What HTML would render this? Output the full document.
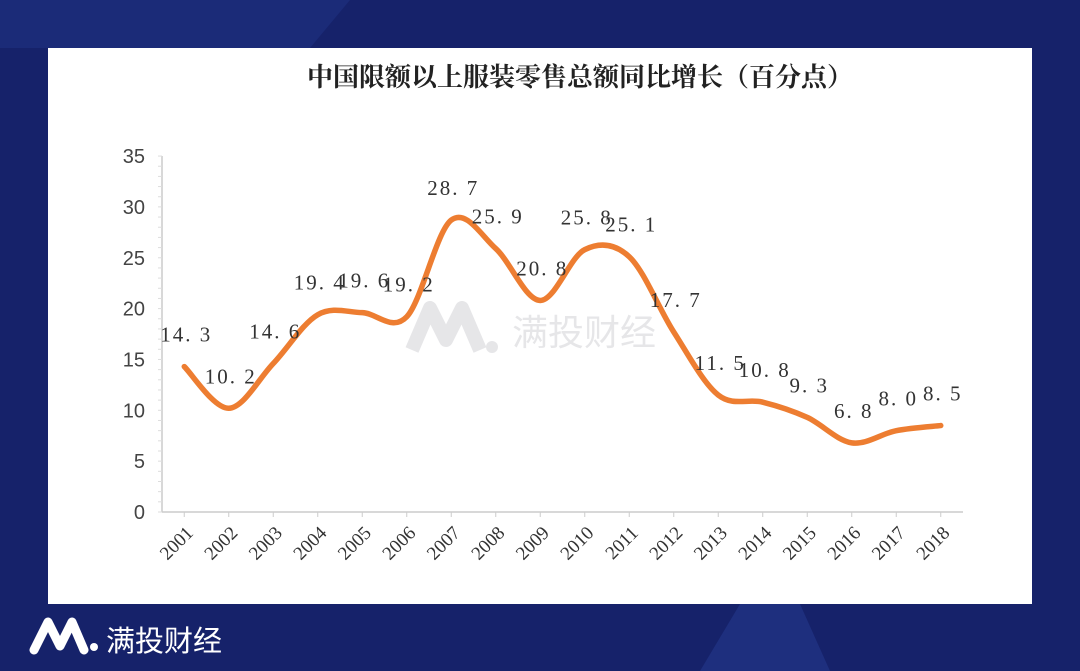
<!DOCTYPE html>
<html><head><meta charset="utf-8"><style>
body{margin:0;width:1080px;height:671px;overflow:hidden;background:#16226a;font-family:"Liberation Sans","Noto Sans CJK SC",sans-serif;}
#bg{position:absolute;left:0;top:0}
#panel{position:absolute;left:48px;top:48px;width:984px;height:556px;background:#fff;}
</style></head><body>
<svg id="bg" width="1080" height="671">
<rect width="1080" height="671" fill="#16226a"/>
<polygon points="0,0 350,0 310,48 0,48" fill="#1b2b78"/>
<polygon points="700,671 740,604 800,604 830,671" fill="#1e2f7e"/>
</svg>
<div id="panel"></div>
<svg id="chart" width="1080" height="671" style="position:absolute;left:0;top:0">
<text x="580" y="86" text-anchor="middle" font-size="26" font-weight="bold" fill="#222" font-family="Liberation Serif,Noto Serif CJK SC,serif">中国限额以上服装零售总额同比增长（百分点）</text>
<g opacity="0.14">
<path d="M412 350 L430 308 L446 340 L462 308 L480 350" fill="none" stroke="#556" stroke-width="14" stroke-linejoin="round"/>
<circle cx="492" cy="347" r="6" fill="#556"/>
<text x="512" y="345" font-size="36" fill="#556">满投财经</text>
</g>
<g id="axes"></g><g id="marks"></g>
<g>
<path d="M34 650 L48 622 L60 646 L72 622 L84 650" fill="none" stroke="#fff" stroke-width="9" stroke-linejoin="round" stroke-linecap="round"/>
<circle cx="94" cy="647" r="4" fill="#fff"/>
<text x="106" y="651" font-size="29" fill="#fff">满投财经</text>
</g>
</svg>
<script>
const categories=["2001","2002","2003","2004","2005","2006","2007","2008","2009","2010","2011","2012","2013","2014","2015","2016","2017","2018"];
const values=[14.3,10.2,14.6,19.4,19.6,19.2,28.7,25.9,20.8,25.8,25.1,17.7,11.5,10.8,9.3,6.8,8.0,8.5];
const yTicks=[0,5,10,15,20,25,30,35];
const NS="http://www.w3.org/2000/svg";
const x0=162,step=44.5,y0=512,ppu=10.17;
const X=i=>x0+step*(i+0.5), Y=v=>y0-v*ppu;
const ax=document.getElementById('axes'),mk=document.getElementById('marks');
function el(t,a,p){const e=document.createElementNS(NS,t);for(const k in a)e.setAttribute(k,a[k]);p.appendChild(e);return e;}
let e=el('line',{x1:x0,y1:Y(35),x2:x0,y2:y0,stroke:'#ccc','stroke-width':1.5},ax);


e=el('line',{x1:x0,y1:y0,x2:x0+step*18,y2:y0,stroke:'#ccc','stroke-width':1.5},ax);


for(let v=0;v<=35;v++){el('line',{x1:x0-4,y1:Y(v),x2:x0,y2:Y(v),stroke:'#ddd'},ax);}
yTicks.forEach(v=>{const t=el('text',{x:145,y:Y(v)+7,'text-anchor':'end','font-size':20,fill:'#444','font-family':'Liberation Sans,sans-serif'},ax);t.textContent=v;

});
categories.forEach((c,i)=>{el('line',{x1:X(i),y1:y0,x2:X(i),y2:y0+5,stroke:'#ccc'},ax);
const t=el('text',{x:X(i)+10,y:y0+22,'text-anchor':'end','font-size':19,fill:'#333','font-family':'Liberation Serif,serif',transform:`rotate(-45 ${X(i)+10} ${y0+22})`},ax);t.textContent=c;

});
const P=values.map((v,i)=>[X(i),Y(v)]);
let d=`M${P[0][0]},${P[0][1]}`;
for(let i=0;i<P.length-1;i++){const p0=P[i-1]||P[i],p1=P[i],p2=P[i+1],p3=P[i+2]||p2;const k=6;
d+=` C${p1[0]+(p2[0]-p0[0])/k},${p1[1]+(p2[1]-p0[1])/k} ${p2[0]-(p3[0]-p1[0])/k},${p2[1]-(p3[1]-p1[1])/k} ${p2[0]},${p2[1]}`;}
const line=el('path',{d:d,fill:'none',stroke:'#ed7d31','stroke-width':5.5,'stroke-linecap':'round'},mk);


values.forEach((v,i)=>{const t=el('text',{x:X(i)+2,y:Y(v)-25,'text-anchor':'middle','font-size':21,fill:'#333','letter-spacing':'2','font-family':'Liberation Serif,serif'},mk);t.textContent=v.toFixed(1).replace('.','. ');

});
</script>
</body></html>
